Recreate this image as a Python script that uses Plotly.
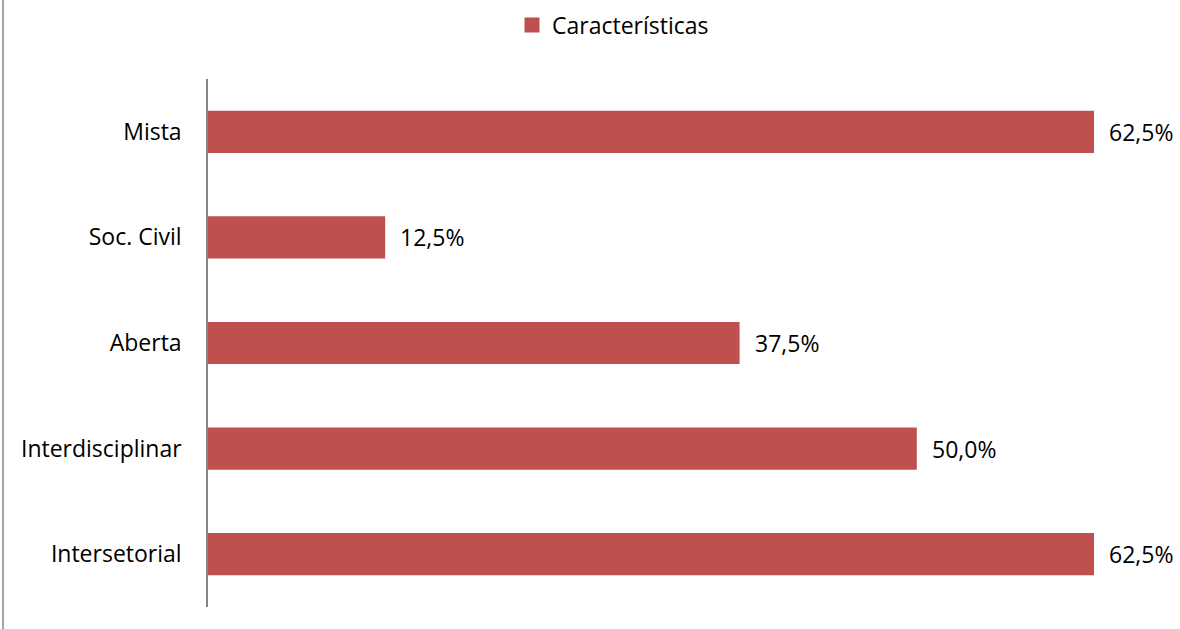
import plotly.graph_objects as go

categories = ["Intersetorial", "Interdisciplinar", "Aberta", "Soc. Civil", "Mista"]
values = [62.5, 50.0, 37.5, 12.5, 62.5]
series_name = "Características"

BAR_COLOR = "#C0504D"
FONT = "'Open Sans', sans-serif"
FONT_SIZE = 23

fig = go.Figure()
fig.add_trace(go.Bar(
    x=values,
    y=categories,
    orientation="h",
    name=series_name,
    marker=dict(color=BAR_COLOR, line=dict(width=0)),
    width=0.4,
    showlegend=False,
))
# legend entry with a larger square key
fig.add_trace(go.Scatter(
    x=[None], y=[None], mode="markers", name=series_name,
    marker=dict(symbol="square", size=15, color=BAR_COLOR),
))

# value labels to the right of each bar
for v, c in zip(values, categories):
    fig.add_annotation(
        x=v, y=c, xref="x", yref="y",
        text=f"{v:.1f}%".replace(".", ","),
        showarrow=False, xanchor="left", xshift=13,
        font=dict(family=FONT, size=FONT_SIZE, color="#000000"),
    )

# outer frame line on the left edge
fig.add_shape(
    type="line", xref="paper", yref="paper",
    x0=(3 - 208) / 886, x1=(3 - 208) / 886, y0=-0.1, y1=1.2,
    line=dict(color="#868686", width=1.5),
)

fig.update_layout(
    width=1180, height=629,
    margin=dict(l=208, r=86, t=79, b=22, autoexpand=False),
    plot_bgcolor="white", paper_bgcolor="white",
    font=dict(family=FONT, size=FONT_SIZE, color="#000000"),
    showlegend=True,
    legend=dict(
        orientation="h", x=(512 - 208) / 886, xanchor="left",
        yref="container", y=1 - 25 / 629, yanchor="middle",
        font=dict(family=FONT, size=FONT_SIZE), itemwidth=30,
    ),
)
fig.update_xaxes(range=[0, 62.5], showgrid=False, zeroline=False,
                 showticklabels=False, showline=False)
fig.update_yaxes(categoryorder="array", categoryarray=categories,
                 showgrid=False, zeroline=False, showline=True,
                 linecolor="#868686", linewidth=1.5, ticks="",
                 ticklabelstandoff=20)

fig.write_html("out.html")
